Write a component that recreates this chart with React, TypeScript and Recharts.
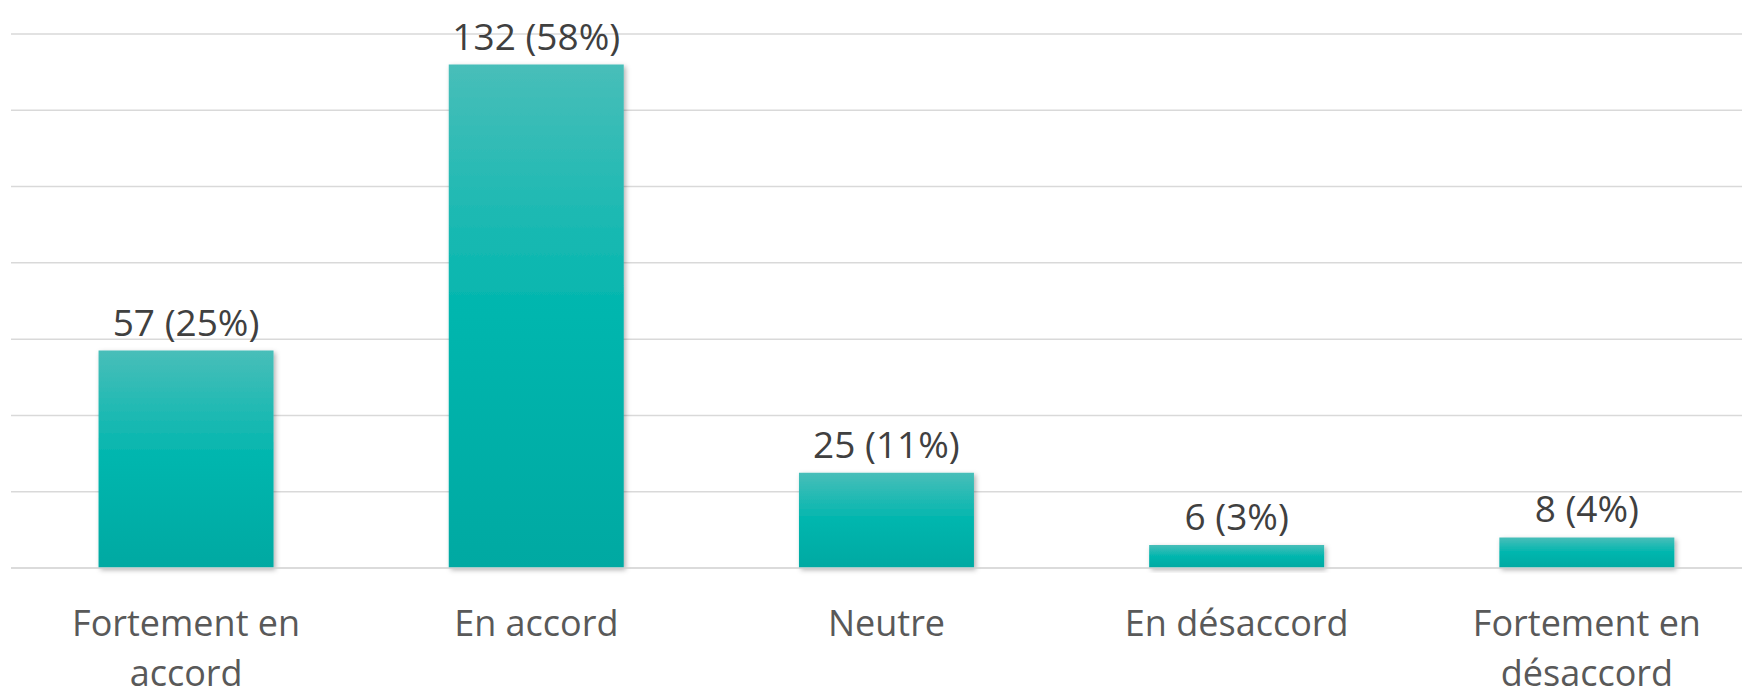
import { BarChart, Bar, XAxis, YAxis, CartesianGrid, LabelList } from 'recharts'

const categories = ['Fortement en accord', 'En accord', 'Neutre', 'En désaccord', 'Fortement en désaccord']
const counts = [57, 132, 25, 6, 8]
const percents = [25, 58, 11, 3, 4]
const yTicks = [0, 20, 40, 60, 80, 100, 120, 140]

const data = categories.map((name, i) => ({ name, count: counts[i], pct: percents[i] }))

const FONT = '"Open Sans", sans-serif'

// breaks long labels after the second word, like the original
function CategoryTick({ x, y, payload }: any) {
  const words = String(payload.value).split(' ')
  const lines = words.length > 2 ? [words.slice(0, 2).join(' '), words.slice(2).join(' ')] : [words.join(' ')]
  return (
    <g>
      {lines.map((line, i) => (
        <text
          key={i}
          x={x}
          y={y + 68 + i * 49.5}
          textAnchor="middle"
          fontFamily={FONT}
          fontSize={36}
          fill="#595959"
        >
          {line}
        </text>
      ))}
    </g>
  )
}

function ValueLabel({ x, y, width, index }: any) {
  const row = data[index]
  return (
    <text
      x={x + width / 2}
      y={y - 15}
      textAnchor="middle"
      fontFamily={FONT}
      fontSize={37}
      fill="#404040"
    >
      {`${row.count} (${row.pct}%)`}
    </text>
  )
}

export default function App() {
  return (
    <div style={{ position: 'absolute', left: 0, top: 0, width: 1742, height: 695, overflow: 'hidden', background: '#fff' }}>
      <BarChart
        width={1762}
        height={695}
        data={data}
        margin={{ top: 34, right: 0, left: 11, bottom: 0 }}
        barCategoryGap="25%"
      >
        <defs>
          <linearGradient id="barFill" x1="0" y1="0" x2="0" y2="1">
            <stop offset="0%" stopColor="#48BEB9" />
            <stop offset="50%" stopColor="#00B6AE" />
            <stop offset="100%" stopColor="#00A9A2" />
          </linearGradient>
          <filter id="barShadow" x="-10%" y="-10%" width="120%" height="130%">
            <feDropShadow dx="2" dy="2" stdDeviation="2.5" floodColor="#000" floodOpacity="0.3" />
          </filter>
        </defs>
        <CartesianGrid vertical={false} stroke="#D9D9D9" strokeWidth={1.5} />
        <XAxis
          dataKey="name"
          height={127}
          axisLine={{ stroke: '#D9D9D9', strokeWidth: 1.5 }}
          tickLine={false}
          tickSize={0}
          tickMargin={0}
          interval={0}
          tick={<CategoryTick />}
        />
        <YAxis hide domain={[0, 140]} ticks={yTicks} />
        <Bar dataKey="count" fill="url(#barFill)" filter="url(#barShadow)" isAnimationActive={false}>
          <LabelList dataKey="count" content={<ValueLabel />} />
        </Bar>
      </BarChart>
    </div>
  )
}
